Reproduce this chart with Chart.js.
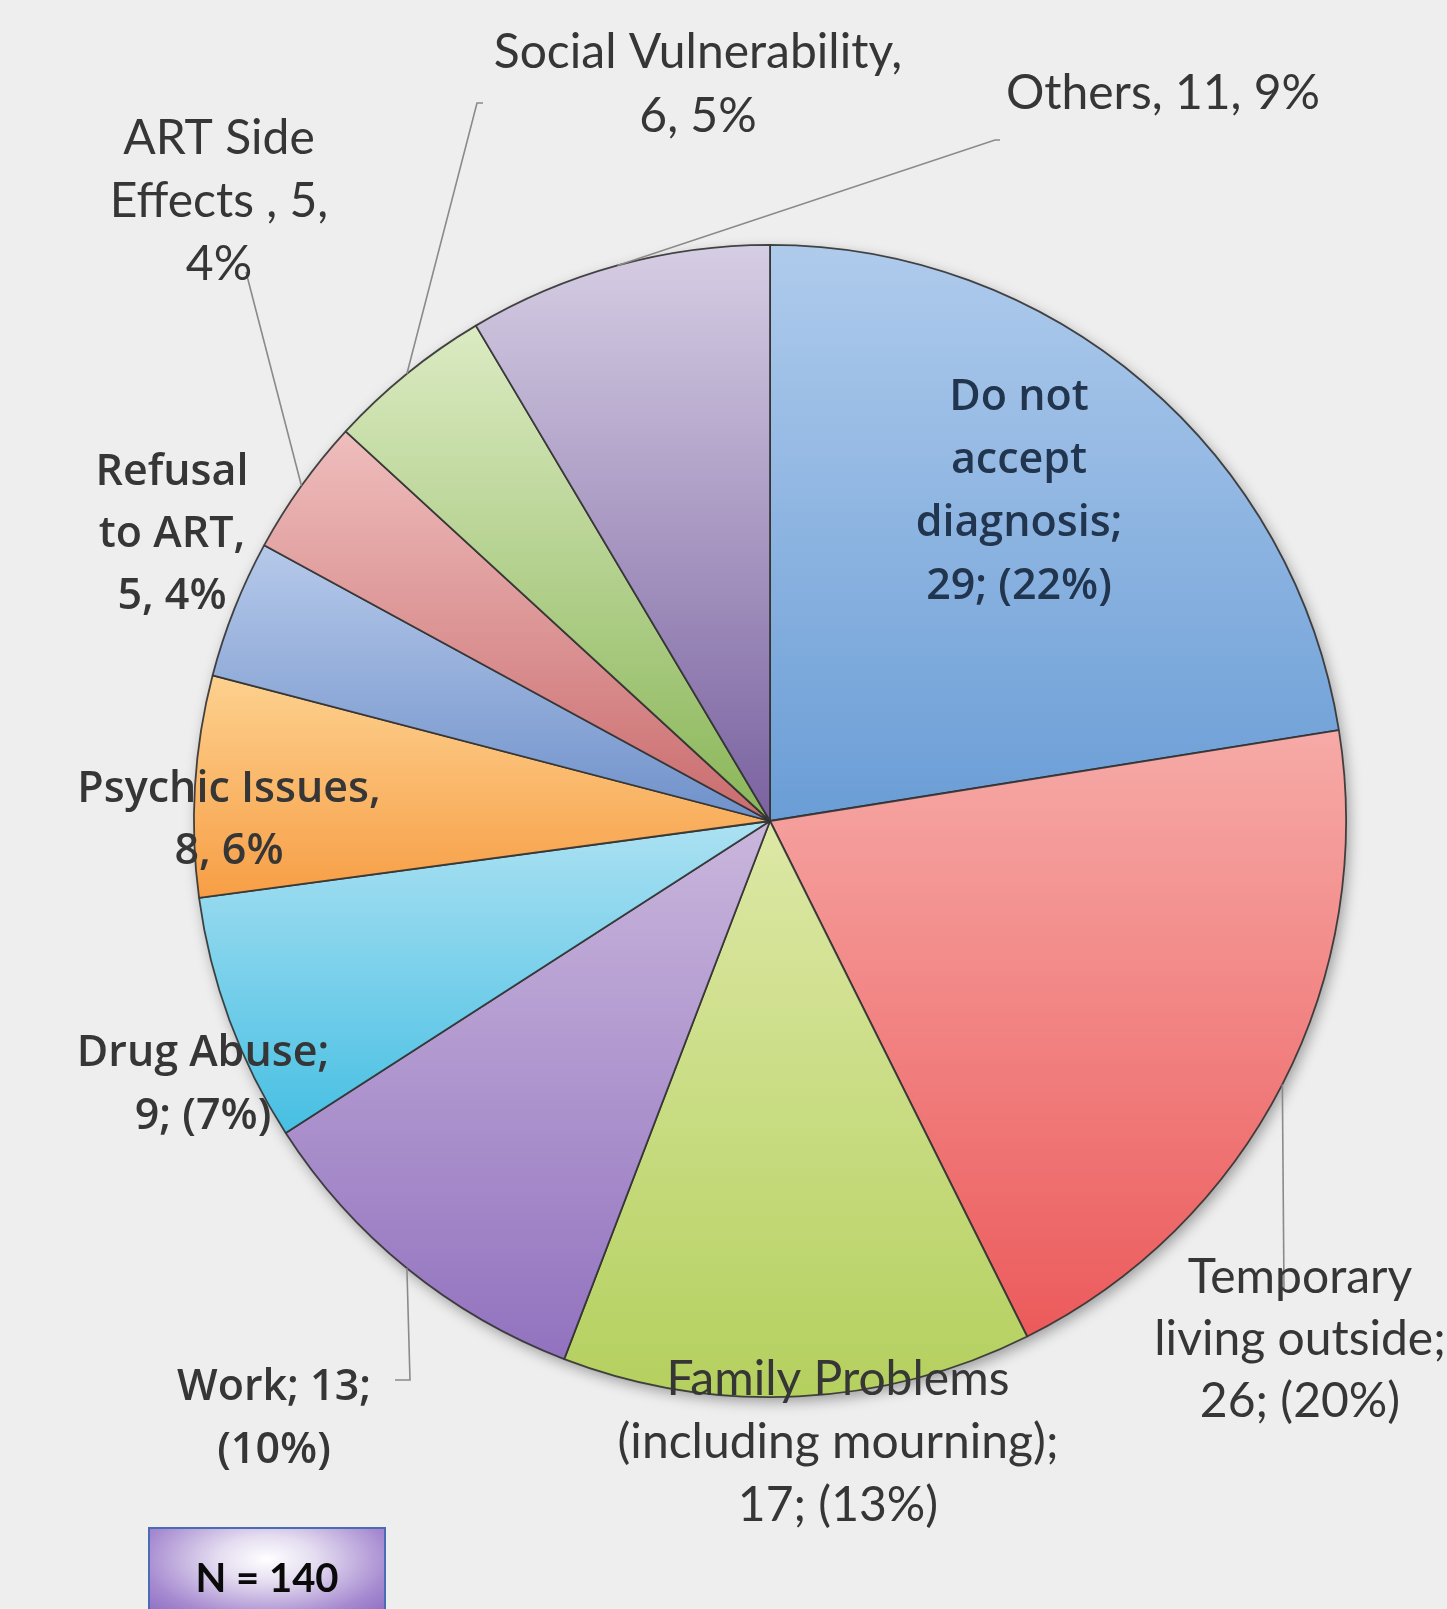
<!DOCTYPE html>
<html>
<head>
<meta charset="utf-8">
<script src="https://cdn.jsdelivr.net/npm/chart.js@4.4.1/dist/chart.umd.min.js"></script>
<style>
  html, body { margin: 0; padding: 0; background: #eeeeee; }
  #wrap { position: relative; width: 1447px; height: 1609px; overflow: hidden; background: #eeeeee; }
  #pie { position: absolute; left: 0; top: 0; }
  #nbox {
    position: absolute; left: 148px; top: 1527px; width: 238px; height: 90px;
    border: 2px solid #4a6cb4;
    background: radial-gradient(ellipse at 50% 35%, #ffffff 0%, #e4dcf0 30%, #a68ad0 75%, #8c6cc4 100%);
    font: bold 40px Lato, sans-serif; color: #0a0a0a;
    text-align: center; line-height: 96px; box-sizing: border-box;
  }
</style>
</head>
<body>
<div id="wrap">
  <canvas id="pie" width="1447" height="1609"></canvas>
  <div id="nbox">N = 140</div>
</div>
<script>
// data, clockwise from 12 o'clock
const categories = [
  'Do not accept diagnosis', 'Temporary living outside', 'Family Problems (including mourning)',
  'Work', 'Drug Abuse', 'Psychic Issues', 'Refusal to ART', 'ART Side Effects',
  'Social Vulnerability', 'Others'
];
const counts = [29, 26, 17, 13, 9, 8, 5, 5, 6, 11];
const percents = [22, 20, 13, 10, 7, 6, 4, 4, 5, 9];

// label text as printed on the chart
const labelLines = [
  ['Do not', 'accept', 'diagnosis;', '29; (22%)'],
  ['Temporary', 'living outside;', '26; (20%)'],
  ['Family Problems', '(including mourning);', '17; (13%)'],
  ['Work; 13;', '(10%)'],
  ['Drug Abuse;', '9; (7%)'],
  ['Psychic Issues,', '8, 6%'],
  ['Refusal', 'to ART,', '5, 4%'],
  ['ART Side', 'Effects , 5,', '4%'],
  ['Social Vulnerability,', '6, 5%'],
  ['Others, 11, 9%']
];

const lightColors = ['#afcbec', '#f6aaa7', '#dde8a6', '#c9b6dc', '#ace1f2', '#fdd18f', '#b6c9ea', '#efbebd', '#dcebc3', '#d6cee4'];
const darkColors  = ['#6a9dd6', '#ec5a5b', '#b4d05e', '#9272bf', '#46bfe3', '#f79e45', '#6f91ca', '#ca6c6e', '#8ab658', '#7a62a0'];

// where the labels sit (page px, centre of first line) and leader lines
const SANS = 'Lato';
const OPEN = '"Open Sans"';
const labelLayout = [
  { x: 1019, y: 398, font: '600 43px ' + OPEN, color: '#22354e', lh: 63 },
  { x: 1300, y: 1278, font: '48px ' + SANS, color: '#363636', lh: 62, leader: [[1284, 1290]] },
  { x: 838, y: 1380, font: '48px ' + SANS, color: '#363636', lh: 63 },
  { x: 274, y: 1388, font: '600 43px ' + OPEN, color: '#363636', lh: 63, leader: [[410, 1380], [395, 1380]] },
  { x: 203, y: 1054, font: '600 43px ' + OPEN, color: '#363636', lh: 63 },
  { x: 229, y: 790, font: '600 43px ' + OPEN, color: '#363636', lh: 62 },
  { x: 172, y: 473, font: '600 43px ' + OPEN, color: '#363636', lh: 62 },
  { x: 219, y: 139, font: '48px ' + SANS, color: '#363636', lh: 63, leader: [[246, 272]] },
  { x: 698, y: 53, font: '48px ' + SANS, color: '#363636', lh: 64, leader: [[477, 103], [483, 103]] },
  { x: 1163, y: 94, font: '48px ' + SANS, color: '#363636', lh: 63, leader: [[995, 140], [1000, 140]] }
];

const total = counts.reduce((a, b) => a + b, 0);

// vertical gradient fitted to each slice
function sliceFill(c) {
  const chart = c.chart;
  const area = chart.chartArea;
  const i = c.dataIndex;
  if (!area) return lightColors[i];
  const cy = (area.top + area.bottom) / 2;
  const r = Math.min(area.right - area.left, area.bottom - area.top) / 2;
  const before = counts.slice(0, i).reduce((a, b) => a + b, 0);
  const a0 = before / total * Math.PI * 2;
  const a1 = (before + counts[i]) / total * Math.PI * 2;
  let y0 = cy, y1 = cy;
  for (let k = 0; k <= 40; k++) {
    const a = a0 + (a1 - a0) * k / 40;
    const y = cy - r * Math.cos(a);
    y0 = Math.min(y0, y);
    y1 = Math.max(y1, y);
  }
  const g = chart.ctx.createLinearGradient(0, y0, 0, y1);
  g.addColorStop(0, lightColors[i]);
  g.addColorStop(1, darkColors[i]);
  return g;
}

const pieShadow = {
  id: 'pieShadow',
  beforeDatasetsDraw(chart) {
    const arc = chart.getDatasetMeta(0).data[0];
    if (!arc) return;
    const ctx = chart.ctx;
    ctx.save();
    ctx.shadowColor = 'rgba(0,0,0,0.35)';
    ctx.shadowBlur = 14;
    ctx.shadowOffsetX = 3;
    ctx.shadowOffsetY = 5;
    ctx.fillStyle = '#999';
    ctx.beginPath();
    ctx.arc(arc.x, arc.y, arc.outerRadius, 0, Math.PI * 2);
    ctx.fill();
    ctx.restore();
  }
};

const sliceLabels = {
  id: 'sliceLabels',
  afterDatasetsDraw(chart) {
    const ctx = chart.ctx;
    const arcs = chart.getDatasetMeta(0).data;
    ctx.save();
    // leader lines from the middle of each slice's rim
    ctx.strokeStyle = '#8a8a8a';
    ctx.lineWidth = 1.6;
    arcs.forEach((arc, i) => {
      const lay = labelLayout[i];
      if (!lay.leader) return;
      const mid = (arc.startAngle + arc.endAngle) / 2;
      ctx.beginPath();
      ctx.moveTo(arc.x + arc.outerRadius * Math.cos(mid), arc.y + arc.outerRadius * Math.sin(mid));
      lay.leader.forEach(p => ctx.lineTo(p[0], p[1]));
      ctx.stroke();
    });
    ctx.textAlign = 'center';
    ctx.textBaseline = 'middle';
    labelLines.forEach((lines, i) => {
      const lay = labelLayout[i];
      ctx.font = lay.font;
      ctx.fillStyle = lay.color;
      lines.forEach((t, k) => ctx.fillText(t, lay.x, lay.y + k * lay.lh));
    });
    ctx.restore();
  }
};

new Chart(document.getElementById('pie'), {
  type: 'pie',
  data: {
    labels: categories,
    datasets: [{
      data: counts,
      backgroundColor: sliceFill,
      borderColor: 'rgba(50,50,50,0.9)',
      borderWidth: 1.8,
      hoverOffset: 0
    }]
  },
  options: {
    responsive: false,
    animation: false,
    layout: { padding: { left: 193, right: 100, top: 244, bottom: 211 } },
    plugins: {
      legend: { display: false },
      tooltip: { enabled: false }
    }
  },
  plugins: [pieShadow, sliceLabels]
});
</script>
</body>
</html>
